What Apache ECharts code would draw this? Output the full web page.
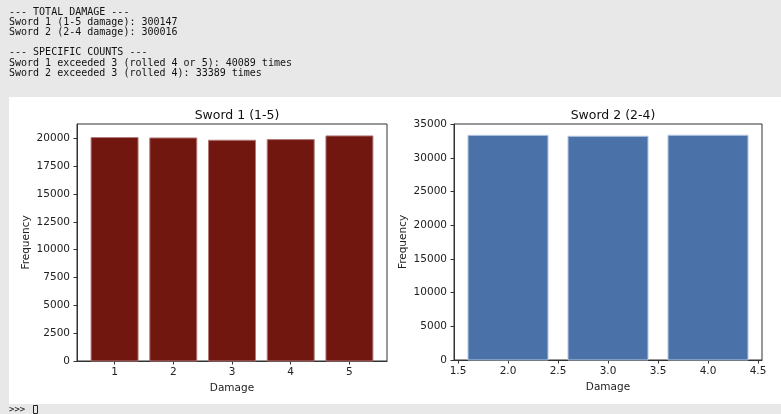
<!DOCTYPE html>
<html>
<head>
<meta charset="utf-8">
<script src="https://cdn.jsdelivr.net/npm/echarts@6/dist/echarts.min.js"></script>
<style>
  html, body { margin: 0; padding: 0; background: #e8e8e8; }
  #chart { width: 781px; height: 414px; }
</style>
</head>
<body>
<div id="chart"></div>
<script>
// console output above the figure
var consoleLines = [
  '--- TOTAL DAMAGE ---',
  'Sword 1 (1-5 damage): 300147',
  'Sword 2 (2-4 damage): 300016',
  '',
  '--- SPECIFIC COUNTS ---',
  'Sword 1 exceeded 3 (rolled 4 or 5): 40089 times',
  'Sword 2 exceeded 3 (rolled 4): 33389 times'
];

// sword 1 histogram
var sword1Damage = [1, 2, 3, 4, 5];
var sword1Counts = [20063, 20026, 19822, 19879, 20210];
var sword1YTicks = [0, 2500, 5000, 7500, 10000, 12500, 15000, 17500, 20000];
var sword1XTicks = [1, 2, 3, 4, 5];

// sword 2 histogram
var sword2Damage = [2, 3, 4];
var sword2Counts = [33373, 33238, 33389];
var sword2YTicks = [0, 5000, 10000, 15000, 20000, 25000, 30000, 35000];
var sword2XTicks = [1.5, 2.0, 2.5, 3.0, 3.5, 4.0, 4.5];

var myChart = echarts.init(document.getElementById('chart'));

function barRenderer(fill, stroke) {
  return function (params, api) {
    var x = api.value(0), y = api.value(1);
    var p0 = api.coord([x - 0.4, y]);
    var p1 = api.coord([x + 0.4, 0]);
    return {
      type: 'rect',
      shape: { x: p0[0], y: p0[1], width: p1[0] - p0[0], height: p1[1] - p0[1] },
      style: { fill: fill, stroke: stroke, lineWidth: 1 }
    };
  };
}

function pairs(xs, ys) {
  var out = [];
  for (var i = 0; i < xs.length; i++) {
    out.push([xs[i], ys[i]]);
  }
  return out;
}

var font = 'DejaVu Sans';
var axisColor = '#333';

function xAxisCfg(idx, min, max, ticks, fmt) {
  return {
    type: 'value', gridIndex: idx, min: min, max: max,
    name: 'Damage', nameLocation: 'middle', nameGap: 22,
    nameTextStyle: { fontFamily: font, fontSize: 10.5, color: '#222' },
    splitLine: { show: false },
    axisLine: { show: true, onZero: false, lineStyle: { color: axisColor } },
    axisTick: { show: true, length: 3.5, customValues: ticks, lineStyle: { color: axisColor } },
    axisLabel: { customValues: ticks, margin: 6, fontFamily: font, fontSize: 10.5, color: '#222', formatter: fmt }
  };
}

function yAxisCfg(idx, min, max, ticks, gap) {
  return {
    type: 'value', gridIndex: idx, min: min, max: max,
    name: 'Frequency', nameLocation: 'middle', nameGap: gap,
    nameTextStyle: { fontFamily: font, fontSize: 10.5, color: '#222' },
    splitLine: { show: false },
    axisLine: { show: true, lineStyle: { color: axisColor } },
    axisTick: { show: true, length: 3.5, customValues: ticks, lineStyle: { color: axisColor } },
    axisLabel: { customValues: ticks, margin: 7, fontFamily: font, fontSize: 10.5, color: '#222',
      formatter: function (v) { return String(v); } }
  };
}

var graphics = [
  { type: 'rect', shape: { x: 9, y: 97, width: 772, height: 307 }, style: { fill: '#ffffff' }, z: -10 },
  { type: 'text', left: 9, top: 405, style: { text: '>>>', font: '9px "DejaVu Sans Mono"', fill: '#111' } },
  { type: 'rect', shape: { x: 33.5, y: 405.5, width: 4, height: 8 }, style: { fill: 'none', stroke: '#222', lineWidth: 1 } }
];
for (var i = 0; i < consoleLines.length; i++) {
  graphics.push({
    type: 'text', left: 9, top: 7 + i * 10.2,
    style: { text: consoleLines[i], font: '10px "DejaVu Sans Mono"', fill: '#111' }
  });
}

var option = {
  backgroundColor: '#e8e8e8',
  animation: false,
  graphic: graphics,
  title: [
    { text: 'Sword 1 (1-5)', left: 232, top: 104, textAlign: 'center',
      textStyle: { fontFamily: font, fontSize: 12.5, fontWeight: 'normal', color: '#111' } },
    { text: 'Sword 2 (2-4)', left: 608, top: 104, textAlign: 'center',
      textStyle: { fontFamily: font, fontSize: 12.5, fontWeight: 'normal', color: '#111' } }
  ],
  grid: [
    { left: 77, top: 124, width: 310, height: 237, show: true, backgroundColor: '#fff', borderColor: axisColor, borderWidth: 1 },
    { left: 454, top: 124, width: 308, height: 236, show: true, backgroundColor: '#fff', borderColor: axisColor, borderWidth: 1 }
  ],
  xAxis: [
    xAxisCfg(0, 0.36, 5.64, sword1XTicks, function (v) { return String(v); }),
    xAxisCfg(1, 1.46, 4.54, sword2XTicks, function (v) { return v.toFixed(1); })
  ],
  yAxis: [
    yAxisCfg(0, 0, 21280, sword1YTicks, 45),
    yAxisCfg(1, 0, 35058, sword2YTicks, 45)
  ],
  series: [
    {
      type: 'custom', xAxisIndex: 0, yAxisIndex: 0,
      renderItem: barRenderer('#721610', '#b07a78'),
      data: pairs(sword1Damage, sword1Counts)
    },
    {
      type: 'custom', xAxisIndex: 1, yAxisIndex: 1,
      renderItem: barRenderer('#4a72a8', '#b4c8e2'),
      data: pairs(sword2Damage, sword2Counts)
    }
  ]
};

myChart.setOption(option);
</script>
</body>
</html>
